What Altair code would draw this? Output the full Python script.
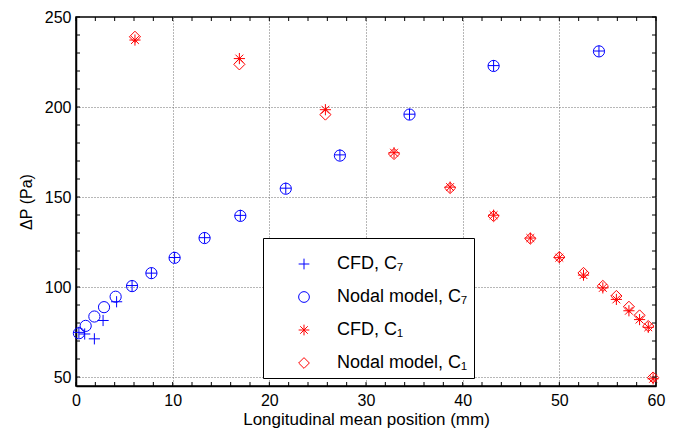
import altair as alt
import pandas as pd

# ---- data ----
cfd_c7_x = [0.3, 0.9, 1.9, 2.8, 4.2, 5.8, 7.8, 10.2, 13.3, 17.0, 21.7, 27.3, 34.5, 43.2, 54.1]
cfd_c7_y = [74.8, 73.9, 71.2, 81.4, 91.8, 100.8, 107.7, 116.4, 127.4, 139.8, 154.9, 173.4, 196.0, 223.0, 231.1]

nodal_c7_x = [0.3, 1.0, 1.9, 2.9, 4.1, 5.8, 7.8, 10.2, 13.3, 17.0, 21.7, 27.3, 34.5, 43.2, 54.1]
nodal_c7_y = [74.3, 78.4, 83.6, 88.8, 94.6, 100.5, 107.7, 116.2, 127.2, 139.5, 154.6, 173.0, 195.8, 222.8, 230.9]

cfd_c1_x = [6.1, 16.9, 25.8, 32.9, 38.7, 43.2, 47.0, 50.0, 52.5, 54.5, 55.9, 57.2, 58.3, 59.2, 59.7]
cfd_c1_y = [237.2, 226.9, 198.5, 174.6, 155.5, 139.9, 127.2, 116.3, 106.6, 99.5, 93.1, 86.8, 81.9, 77.6, 49.0]

nodal_c1_x = [6.1, 16.9, 25.8, 32.9, 38.7, 43.2, 47.0, 50.0, 52.5, 54.5, 55.9, 57.2, 58.3, 59.2, 59.7]
nodal_c1_y = [239.0, 223.7, 195.8, 173.9, 155.0, 139.4, 126.9, 116.6, 107.8, 100.6, 95.0, 89.0, 84.2, 78.3, 49.7]

series = ["CFD, C\u2087", "Nodal model, C\u2087", "CFD, C\u2081", "Nodal model, C\u2081"]
colors = ["#0000ff", "#0000ff", "#ff0000", "#ff0000"]
PLUS = "M-1,0L1,0M0,-1L0,1"
AST = "M-1,0L1,0M0,-1L0,1M-0.7,-0.7L0.7,0.7M-0.7,0.7L0.7,-0.7"
shapes = [PLUS, "circle", AST, "diamond"]

x_major = [0, 10, 20, 30, 40, 50, 60]
y_major = [50, 100, 150, 200, 250]
x_minor = [v for v in range(0, 61, 2)]
y_minor = [v for v in range(50, 251, 10)]

rows = []
for name, xs_, ys_ in [(series[0], cfd_c7_x, cfd_c7_y),
                       (series[1], nodal_c7_x, nodal_c7_y),
                       (series[2], cfd_c1_x, cfd_c1_y),
                       (series[3], nodal_c1_x, nodal_c1_y)]:
    rows += [{"x": a, "y": b, "series": name} for a, b in zip(xs_, ys_)]
df = pd.DataFrame(rows)

W, H = 580, 369
FONT = "Liberation Sans"
xsc = alt.Scale(domain=[0, 60], nice=False, zero=False)
ysc = alt.Scale(domain=[45, 250], nice=False, zero=False)
xax = alt.Axis(values=x_major, title="Longitudinal mean position (mm)", grid=True,
               ticks=False, domain=True, labelPadding=6, titlePadding=3, labelFlush=False,
               titleFontSize=17,
               gridOpacity={"condition": {"test": "datum.value == 0 || datum.value == 60", "value": 0}, "value": 1})
yax = alt.Axis(values=y_major, title="\u0394P (Pa)", grid=True,
               ticks=False, domain=True, labelPadding=5, titlePadding=10, labelFlush=False,
               gridOpacity={"condition": {"test": "datum.value == 250", "value": 0}, "value": 1})

leg = dict(title=" ", titleFontSize=6, titlePadding=5, orient="none", legendX=187, legendY=221,
           fillColor="white", strokeColor="black", padding=6,
           symbolOffset=26, labelOffset=24, rowPadding=15,
           labelFontSize=18, labelFont=FONT, symbolSize=115,
           symbolStrokeWidth=1, labelLimit=300, labelColor="black")

points = alt.Chart(df).mark_point(filled=False, strokeWidth=1, size=125, opacity=1).encode(
    x=alt.X("x:Q", scale=xsc, axis=xax),
    y=alt.Y("y:Q", scale=ysc, axis=yax),
    color=alt.Color("series:N", scale=alt.Scale(domain=series, range=colors),
                    legend=alt.Legend(**leg)),
    shape=alt.Shape("series:N", scale=alt.Scale(domain=series, range=shapes),
                    legend=alt.Legend(**leg)),
)

xt = pd.DataFrame({"x": x_minor})
yt = pd.DataFrame({"y": y_minor})

bottom = alt.Chart(xt).mark_rule(color="black", strokeWidth=1).encode(
    x=alt.X("x:Q", scale=xsc, axis=xax), y=alt.value(H), y2=alt.value(H - 4))
top = alt.Chart(xt).mark_rule(color="black", strokeWidth=1).encode(
    x=alt.X("x:Q", scale=xsc, axis=xax), y=alt.value(0), y2=alt.value(4))
left = alt.Chart(yt).mark_rule(color="black", strokeWidth=1).encode(
    y=alt.Y("y:Q", scale=ysc, axis=yax), x=alt.value(0), x2=alt.value(4))
right = alt.Chart(yt).mark_rule(color="black", strokeWidth=1).encode(
    y=alt.Y("y:Q", scale=ysc, axis=yax), x=alt.value(W), x2=alt.value(W - 4))

chart = alt.layer(points, bottom, top, left, right).properties(
    width=W, height=H,
    background="white",
    autosize=alt.AutoSizeParams(type="none"),
    padding={"left": 68, "top": 9, "right": 17, "bottom": 46},
).configure_view(
    stroke="black", strokeWidth=1.5
).configure_axis(
    labelFont=FONT, titleFont=FONT, labelFontSize=16, titleFontSize=16,
    labelColor="black", titleColor="black", titleFontWeight="normal",
    domainColor="black", domainWidth=1.5,
    gridColor="#6e6e6e", gridDash=[1, 2], gridWidth=1,
)

chart.save("out.html", embed_options={"renderer": "svg", "actions": False})
